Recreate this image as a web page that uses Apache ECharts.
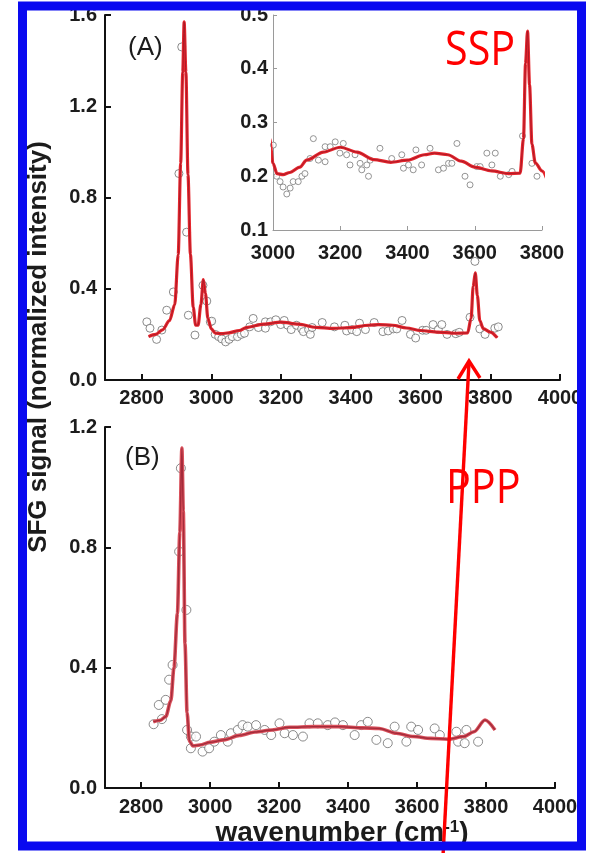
<!DOCTYPE html>
<html>
<head>
<meta charset="utf-8">
<script src="https://cdn.jsdelivr.net/npm/echarts@6/dist/echarts.min.js"></script>
<style>
html,body{margin:0;padding:0;background:#fff;}
#chart{width:589px;height:853px;}
</style>
</head>
<body>
<div id="chart"></div>
<script>
// ---------- data ----------
const xTicksMain = [2800, 3000, 3200, 3400, 3600, 3800, 4000];
const xTicksInset = [3000, 3200, 3400, 3600, 3800];

// Panel A (SSP) measured points [wavenumber, intensity]
const pointsA = [
  [2815,0.255],[2824,0.227],[2843,0.178],[2858,0.219],[2872,0.306],[2891,0.386],
  [2907,0.905],[2915,1.46],[2929,0.648],[2934,0.284],[2953,0.197],[2976,0.415],
  [2987,0.346],[2997,0.255],
  [3001,0.258],[3011,0.2],[3021,0.19],[3030,0.18],[3041,0.167],[3051,0.178],
  [3060,0.19],[3075,0.19],[3086,0.2],[3095,0.205],[3110,0.233],[3120,0.27],
  [3135,0.23],[3155,0.227],[3155,0.255],[3170,0.255],[3185,0.264],[3199,0.243],
  [3209,0.261],[3219,0.24],[3229,0.221],[3244,0.24],[3259,0.224],[3264,0.212],
  [3279,0.221],[3284,0.2],[3289,0.23],[3318,0.252],[3353,0.233],[3383,0.24],
  [3388,0.215],[3403,0.221],[3417,0.212],[3425,0.249],[3442,0.221],[3467,0.252],
  [3492,0.212],[3507,0.215],[3522,0.224],[3532,0.224],[3547,0.261],[3571,0.2],
  [3586,0.184],[3606,0.218],[3616,0.218],[3636,0.243],[3651,0.221],[3661,0.243],
  [3676,0.2],[3701,0.203],[3711,0.209],[3742,0.275],[3756,0.52],[3770,0.224],
  [3785,0.2],[3813,0.227],[3823,0.233]
];
// Panel A fit curve
const fitA = [
  [2820,0.19],[2840,0.2],[2860,0.22],[2880,0.26],[2895,0.33],[2905,0.55],
  [2912,0.95],[2918,1.35],[2922,1.57],[2927,1.35],[2933,0.9],[2940,0.55],
  [2948,0.32],[2955,0.24],[2962,0.24],[2970,0.33],[2977,0.44],[2983,0.38],
  [2990,0.27],[3000,0.224],[3012,0.205],[3030,0.203],[3050,0.207],[3080,0.217],
  [3100,0.23],[3150,0.245],[3200,0.254],[3250,0.245],[3300,0.231],[3350,0.226],
  [3400,0.23],[3450,0.24],[3480,0.243],[3520,0.24],[3560,0.228],[3600,0.217],
  [3650,0.21],[3700,0.205],[3735,0.206],[3745,0.27],[3751,0.41],[3757,0.47],
  [3763,0.37],[3770,0.26],[3780,0.225],[3800,0.21],[3820,0.185]
];

// Panel B (PPP) measured points
const pointsB = [
  [2836,0.212],[2851,0.276],[2860,0.229],[2871,0.293],[2881,0.36],[2891,0.409],
  [2910,0.786],[2915,1.063],[2931,0.592],[2933,0.193],[2944,0.171],[2944,0.132],
  [2959,0.171],[2978,0.121],[2997,0.132],[3012,0.154],[3031,0.176],[3051,0.154],
  [3060,0.182],[3080,0.193],[3094,0.209],[3109,0.204],[3133,0.209],[3158,0.193],
  [3177,0.176],[3201,0.215],[3216,0.182],[3240,0.176],[3269,0.171],[3288,0.215],
  [3312,0.215],[3341,0.209],[3362,0.218],[3385,0.209],[3419,0.176],[3438,0.209],
  [3457,0.22],[3482,0.16],[3515,0.149],[3535,0.204],[3569,0.154],[3583,0.204],
  [3603,0.193],[3651,0.198],[3666,0.176],[3714,0.187],[3719,0.154],[3738,0.149],
  [3743,0.193],[3777,0.154]
];
// Panel B fit curve
const fitB = [
  [2835,0.22],[2855,0.225],[2871,0.237],[2886,0.29],[2895,0.4],[2905,0.58],
  [2912,0.85],[2918,1.13],[2922,0.92],[2927,0.48],[2933,0.25],[2940,0.155],
  [2950,0.14],[2970,0.143],[3000,0.152],[3040,0.16],[3085,0.175],[3130,0.186],
  [3180,0.193],[3230,0.202],[3300,0.204],[3375,0.204],[3440,0.2],[3490,0.198],
  [3540,0.182],[3590,0.171],[3640,0.165],[3690,0.162],[3735,0.171],[3765,0.187],
  [3797,0.226],[3826,0.193]
];

// ---------- chart ----------
const FONT = 'Liberation Sans, Arial, sans-serif';
const chart = echarts.init(document.getElementById('chart'), null, {renderer:'canvas'});
const plain = function(v){ return String(v); };

function mainX(gridIndex, labelMargin){
  return {
    type:'value', gridIndex: gridIndex, min:2695, max:4000,
    axisLine:{show:true, onZero:false, lineStyle:{color:'#111', width:2}},
    axisTick:{show:true, inside:true, length:6, lineStyle:{color:'#111', width:2}, customValues: xTicksMain},
    axisLabel:{show:true, fontFamily:FONT, fontWeight:'bold', fontSize:20, color:'#1c1c1c', margin:labelMargin,
      customValues: xTicksMain, formatter: plain},
    splitLine:{show:false}
  };
}
function mainY(gridIndex, max){
  return {
    type:'value', gridIndex: gridIndex, min:0, max:max, interval:0.4,
    axisLine:{show:true, onZero:false, lineStyle:{color:'#111', width:2}},
    axisTick:{show:true, inside:true, length:6, lineStyle:{color:'#111', width:2}},
    axisLabel:{show:true, fontFamily:FONT, fontWeight:'bold', fontSize:20, color:'#1c1c1c', margin:8,
      formatter:function(v){return v.toFixed(1);}},
    splitLine:{show:false}
  };
}

const option = {
  animation:false,
  backgroundColor:'#fff',
  grid:[
    {left:105, right:29, top:15, bottom:473, containLabel:false},
    {left:273, width:269, top:15, height:215, containLabel:false},
    {left:105, right:34, top:427, bottom:65, containLabel:false}
  ],
  xAxis:[
    mainX(0, 8),
    {
      type:'value', gridIndex:1, min:3000, max:3800, interval:200,
      axisLine:{show:true, onZero:false, lineStyle:{color:'#9a9a9a', width:1}},
      axisTick:{show:true, inside:true, length:4, lineStyle:{color:'#9a9a9a', width:1}, customValues: xTicksInset},
      axisLabel:{show:true, fontFamily:FONT, fontWeight:'bold', fontSize:20, color:'#1c1c1c', margin:13,
        customValues: xTicksInset, formatter: plain},
      splitLine:{show:false}
    },
    mainX(2, 9)
  ],
  yAxis:[
    mainY(0, 1.6),
    {
      type:'value', gridIndex:1, min:0.1, max:0.5, interval:0.1,
      axisLine:{show:true, onZero:false, lineStyle:{color:'#9a9a9a', width:1}},
      axisTick:{show:true, inside:true, length:4, lineStyle:{color:'#9a9a9a', width:1}},
      axisLabel:{show:true, fontFamily:FONT, fontWeight:'bold', fontSize:20, color:'#1c1c1c', margin:5,
        formatter:function(v){return v.toFixed(1);}},
      splitLine:{show:false}
    },
    mainY(2, 1.2)
  ],
  series:[
    {type:'scatter', xAxisIndex:0, yAxisIndex:0, data:pointsA, symbol:'circle', symbolSize:8,
      itemStyle:{color:'#fff', borderColor:'#6e6e6e', borderWidth:1}, z:2},
    {type:'line', xAxisIndex:0, yAxisIndex:0, data:fitA, showSymbol:false, smooth:0.3, smoothMonotone:'x',
      lineStyle:{color:'#e5262d', width:3.2}, z:3},
    {type:'line', xAxisIndex:0, yAxisIndex:0, data:fitA, showSymbol:false, smooth:0.3, smoothMonotone:'x',
      lineStyle:{color:'#9e1626', width:1, opacity:0.8}, z:4},

    {type:'scatter', xAxisIndex:1, yAxisIndex:1, data:pointsA, symbol:'circle', symbolSize:6,
      itemStyle:{color:'#fff', borderColor:'#7a7a7a', borderWidth:1}, z:2},
    {type:'line', xAxisIndex:1, yAxisIndex:1, data:fitA, showSymbol:false, smooth:0.3, smoothMonotone:'x',
      lineStyle:{color:'#e5262d', width:3.2}, z:3},
    {type:'line', xAxisIndex:1, yAxisIndex:1, data:fitA, showSymbol:false, smooth:0.3, smoothMonotone:'x',
      lineStyle:{color:'#9e1626', width:1, opacity:0.8}, z:4},

    {type:'scatter', xAxisIndex:2, yAxisIndex:2, data:pointsB, symbol:'circle', symbolSize:9,
      itemStyle:{color:'#fff', borderColor:'#6e6e6e', borderWidth:1}, z:2},
    {type:'line', xAxisIndex:2, yAxisIndex:2, data:fitB, showSymbol:false, smooth:0.3, smoothMonotone:'x',
      lineStyle:{color:'#d9505b', width:3.6}, z:3},
    {type:'line', xAxisIndex:2, yAxisIndex:2, data:fitB, showSymbol:false, smooth:0.3, smoothMonotone:'x',
      lineStyle:{color:'#9a2535', width:1.4, opacity:0.85}, z:4}
  ],
  graphic:[
    {type:'text', x:39, y:347, rotation:Math.PI/2, z:50,
      style:{text:'SFG signal (normalized intensity)', fontFamily:FONT, fontWeight:'bold', fontSize:26,
        fill:'#1c1c1c', align:'center', verticalAlign:'middle'}},
    {type:'text', x:342, y:833, z:50,
      style:{text:'{a|wavenumber (cm}{s|-1}{a|)}', align:'center', verticalAlign:'middle',
        rich:{
          a:{fontFamily:FONT, fontWeight:'bold', fontSize:28, fill:'#1c1c1c'},
          s:{fontFamily:FONT, fontWeight:'bold', fontSize:17, fill:'#1c1c1c', verticalAlign:'top', padding:[0,0,12,0]}
        }}},
    {type:'text', x:128, y:48, z:50,
      style:{text:'(A)', fontFamily:FONT, fontSize:26, fill:'#1c1c1c', align:'left', verticalAlign:'middle'}},
    {type:'text', x:125, y:458, z:50,
      style:{text:'(B)', fontFamily:FONT, fontSize:26, fill:'#1c1c1c', align:'left', verticalAlign:'middle'}},
    {type:'text', x:445, y:51, scaleX:0.86, z:50,
      style:{text:'SSP', fontFamily:'Open Sans, sans-serif', fontSize:48, fill:'#ff0000', align:'left', verticalAlign:'middle'}},
    {type:'text', x:446, y:489, scaleX:0.86, z:50,
      style:{text:'PPP', fontFamily:'Open Sans, sans-serif', fontSize:48, fill:'#ff0000', align:'left', verticalAlign:'middle'}},
    {type:'line', z:60, shape:{x1:443, y1:856, x2:469, y2:362},
      style:{stroke:'#ff0000', lineWidth:3.4}},
    {type:'polyline', z:60, shape:{points:[[458,379],[469,361],[480,378]]},
      style:{stroke:'#ff0000', lineWidth:3.4, fill:'none'}},
    {type:'rect', z:100, shape:{x:22.5, y:6, width:559, height:840},
      style:{fill:'none', stroke:'#0a0af0', lineWidth:9}}
  ]
};
chart.setOption(option);
</script>
</body>
</html>
